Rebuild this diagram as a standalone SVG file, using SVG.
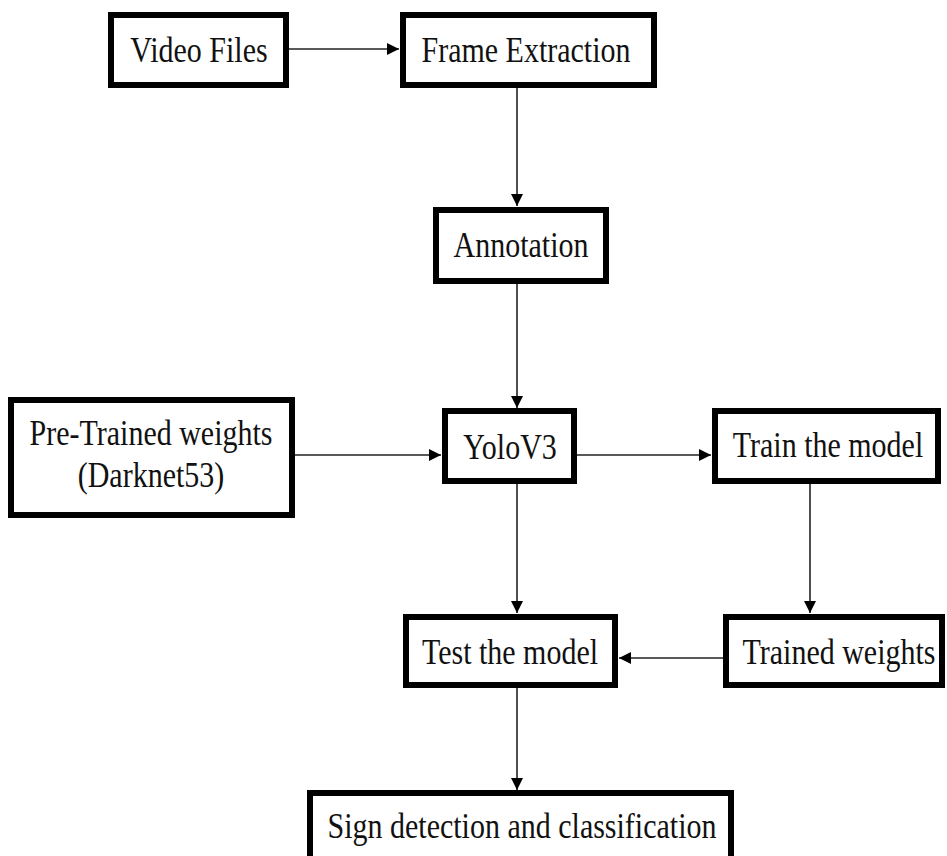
<svg xmlns="http://www.w3.org/2000/svg" width="947" height="856" viewBox="0 0 947 856">
<style>
.box{fill:#fff;stroke:#000;stroke-width:6}
.lbl{font-family:"Liberation Serif","Times New Roman",serif;font-size:30px;fill:#111;text-anchor:middle}
.conn{fill:none;stroke:#222;stroke-width:1.6}
</style>
<defs>
<marker id="ah" markerUnits="userSpaceOnUse" markerWidth="13" markerHeight="13" refX="12" refY="6" orient="auto">
<path d="M0,0 L12,6 L0,12 z" fill="#000"/>
</marker>
</defs>
<rect width="947" height="856" fill="#fff"/>
<g id="connectors">
<line class="conn" x1="289" y1="49" x2="399" y2="49" marker-end="url(#ah)"/>
<line class="conn" x1="517" y1="88" x2="517" y2="206" marker-end="url(#ah)"/>
<line class="conn" x1="517" y1="282" x2="517" y2="408" marker-end="url(#ah)"/>
<line class="conn" x1="295" y1="455" x2="441" y2="455" marker-end="url(#ah)"/>
<line class="conn" x1="577" y1="455" x2="711" y2="455" marker-end="url(#ah)"/>
<line class="conn" x1="810" y1="484" x2="810" y2="613" marker-end="url(#ah)"/>
<line class="conn" x1="517" y1="484" x2="517" y2="613" marker-end="url(#ah)"/>
<line class="conn" x1="723" y1="658" x2="619" y2="658" marker-end="url(#ah)"/>
<line class="conn" x1="517" y1="688" x2="517" y2="790" marker-end="url(#ah)"/>
</g>
<g id="video-files">
<rect class="box" x="111" y="15" width="175" height="70"/>
<text class="lbl" transform="translate(199 62) scale(1 1.2)">Video Files</text>
</g>
<g id="frame-extraction">
<rect class="box" x="403" y="15" width="251" height="70"/>
<text class="lbl" transform="translate(526 62) scale(1 1.2)">Frame Extraction</text>
</g>
<g id="annotation">
<rect class="box" x="436" y="210" width="170" height="71"/>
<text class="lbl" transform="translate(521 257) scale(1 1.2)">Annotation</text>
</g>
<g id="pre-trained">
<rect class="box" x="11" y="400" width="281" height="115"/>
<text class="lbl" transform="translate(151 445) scale(1 1.2)">Pre-Trained weights</text>
<text class="lbl" transform="translate(151 487) scale(1 1.2)">(Darknet53)</text>
</g>
<g id="yolov3">
<rect class="box" x="445" y="411" width="129" height="70"/>
<text class="lbl" transform="translate(510 459) scale(1 1.2)">YoloV3</text>
</g>
<g id="train-model">
<rect class="box" x="715" y="411" width="223" height="70"/>
<text class="lbl" transform="translate(828 457) scale(1 1.2)">Train the model</text>
</g>
<g id="trained-weights">
<rect class="box" x="726" y="617" width="216" height="68"/>
<text class="lbl" transform="translate(839 664) scale(1 1.2)">Trained weights</text>
</g>
<g id="test-model">
<rect class="box" x="406" y="617" width="209" height="68"/>
<text class="lbl" transform="translate(510 664) scale(1 1.2)">Test the model</text>
</g>
<g id="sign-detection">
<rect class="box" x="310" y="793" width="421" height="80"/>
<text class="lbl" transform="translate(522 838) scale(1 1.2)">Sign detection and classification</text>
</g>
</svg>
